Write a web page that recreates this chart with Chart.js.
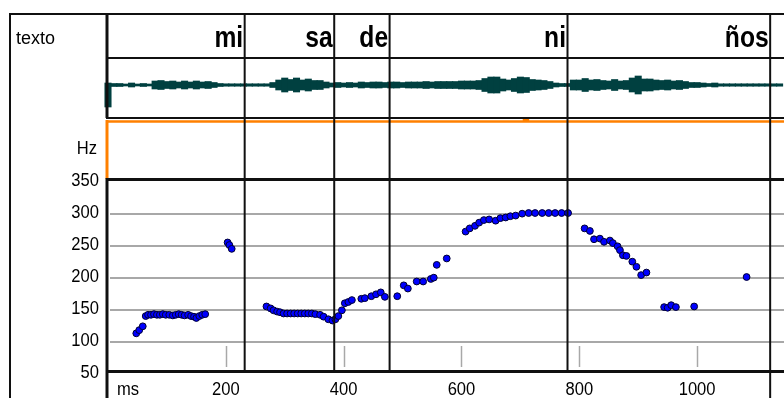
<!DOCTYPE html>
<html>
<head>
<meta charset="utf-8">
<script src="https://cdn.jsdelivr.net/npm/chart.js@4/dist/chart.umd.min.js"></script>
<style>
  html, body { margin: 0; padding: 0; background: #ffffff; }
  #c { display: block; }
</style>
</head>
<body>
<canvas id="c" width="784" height="398"></canvas>
<script>
// ---------- data ----------
const syllables = ["mi", "sa", "de", "ni", "ños"];
const syllableEndMs = [232, 384, 478, 780, 1124];
const rowLabel = "texto";
const yUnit = "Hz";
const xUnit = "ms";
const yTickValues = [50, 100, 150, 200, 250, 300, 350];
const yGridValues = [100, 150, 200, 250, 300];
const xTickValues = [200, 400, 600, 800, 1000];

const pitchMs = [48, 53, 59, 64, 68, 73, 78, 83, 88, 93, 98, 104, 110, 115, 120, 125, 130, 136, 141, 146, 150, 155, 160, 165,
  203, 206, 210,
  269, 276, 281, 287, 292, 298, 304, 310, 316, 322, 328, 334, 340, 346, 352, 360, 366, 374, 381, 386, 391, 397, 402, 408, 414, 430, 436, 447, 455, 463, 470,
  491, 502, 509, 524, 535, 548, 553, 558, 575,
  607, 614, 623, 630, 638, 647, 658, 666, 675, 683, 692, 703, 714, 725, 737, 748, 759, 770, 781,
  809, 818, 825, 835, 842, 852, 857, 865, 869, 874, 880, 890, 897, 905, 914,
  944, 950, 956, 964, 995,
  1084];
const pitchHz = [114, 119, 125, 141, 143, 143, 144, 143, 143, 144, 143, 143, 142, 143, 144, 143, 142, 143, 141, 140, 138, 141, 143, 144,
  256, 252, 246,
  156, 153, 150, 148, 147, 145, 145, 145, 145, 145, 145, 145, 145, 145, 144, 143, 140, 136, 134, 136, 141, 150, 161, 163, 166, 168, 169, 172, 175, 178, 171,
  172, 189, 184, 195, 195, 199, 201, 221, 231,
  273, 278, 282, 287, 291, 292, 290, 294, 295, 297, 298, 301, 302, 302, 302, 302, 302, 302, 302,
  278, 274, 261, 262, 257, 259, 255, 250, 244, 236, 235, 226, 218, 205, 209,
  155, 154, 158, 155, 156,
  202];

// waveform envelope (half amplitude, arbitrary units), one value per 10 ms starting at 0 ms
const waveStepMs = 10;
const waveAmp = [
  2, 1.5, 1.5, 1, 2, 1, 1.5, 1, 4, 4.5,
  3.5, 4, 3, 4, 3, 4, 3, 3.5, 2.5, 1.5,
  1.2, 1.2, 1.2, 1.2, 1.2, 1.2, 1.2, 1.2, 2.5, 5,
  7, 5.5, 7, 5, 6, 4.5, 4.5, 3, 2, 2.5,
  2, 2.5, 2, 3, 2.5, 3, 3, 2.5, 3, 3,
  2.5, 3, 3, 3, 3.5, 3, 3.5, 3.5, 3.5, 3.5,
  4, 4, 4, 4.5, 6.5, 8, 8, 6, 5, 6.5,
  8, 7.5, 5.5, 5, 4.5, 3.5, 2, 1.5, 1.5, 5,
  5, 6.5, 5, 5.5, 4.5, 4, 5.5, 4, 4.5, 7,
  9, 6, 6, 5, 4.5, 5, 4, 4.5, 3.5, 2.5,
  2.5, 2, 1.5, 2, 1.2, 1.2, 1.2, 1.2, 1.2, 1.2,
  1.2, 1.2, 1.2, 1.2, 1.2
];
const waveOnsetLow = -22;   // downward transient at the very start
const orangeMarkMs = [[704, 715]];

// ---------- build datasets ----------
const pitchPoints = pitchMs.map((m, i) => ({ x: m, y: pitchHz[i] }));
const wavePoints = waveAmp.map((a, i) => ({
  x: i * waveStepMs,
  y: i === 0 ? [waveOnsetLow, a] : [-a, a]
}));

const FONT = '"Liberation Sans", Arial, sans-serif';

const framePlugin = {
  id: 'frame',
  beforeDatasetsDraw(chart) {
    const ctx = chart.ctx;
    const xs = chart.scales.x, ys = chart.scales.y;
    ctx.save();
    ctx.strokeStyle = '#a8a8a8';
    ctx.lineWidth = 2;
    yGridValues.forEach(v => {
      const y = Math.round(ys.getPixelForValue(v));
      ctx.beginPath(); ctx.moveTo(110, y); ctx.lineTo(784, y); ctx.stroke();
    });
    ctx.lineWidth = 1.5;
    xTickValues.forEach(v => {
      const x = Math.round(xs.getPixelForValue(v)) + 0.5;
      ctx.beginPath(); ctx.moveTo(x, 346); ctx.lineTo(x, 367); ctx.stroke();
    });
    ctx.restore();
  },
  afterDatasetsDraw(chart) {
    const ctx = chart.ctx;
    const xs = chart.scales.x, ys = chart.scales.y;
    ctx.save();
    const line = (x1, y1, x2, y2, w, c) => {
      ctx.strokeStyle = c; ctx.lineWidth = w;
      ctx.beginPath(); ctx.moveTo(x1, y1); ctx.lineTo(x2, y2); ctx.stroke();
    };
    const K = '#101010';
    line(107, 121.5, 784, 121.5, 2.5, '#ff8000');
    orangeMarkMs.forEach(([a, b]) => {
      const x1 = xs.getPixelForValue(a), x2 = xs.getPixelForValue(b);
      ctx.fillStyle = '#ff8000';
      ctx.fillRect(x1, 119, x2 - x1, 3);
    });
    line(107, 120, 107, 179, 3, '#ff8000');
    line(10, 14, 784, 14, 2, K);
    line(10, 13, 10, 398, 2, K);
    line(107, 13, 107, 118, 3, K);
    line(107, 178, 107, 398, 3, K);
    line(106, 58, 784, 58, 2, K);
    line(106, 118, 784, 118, 2, K);
    line(106, 179.5, 784, 179.5, 3, K);
    line(106, 371.5, 784, 371.5, 3, K);
    syllableEndMs.forEach((m, i) => {
      const x = xs.getPixelForValue(m);
      const last = i === syllableEndMs.length - 1;
      line(x, 14, x, last ? 398 : 372, 2, K);
    });
    ctx.fillStyle = '#000';
    ctx.font = '18px ' + FONT;
    ctx.textBaseline = 'alphabetic';
    ctx.textAlign = 'left';
    ctx.fillText(rowLabel, 16, 43.5);
    ctx.font = 'bold 28px ' + FONT;
    ctx.textAlign = 'right';
    syllables.forEach((s, i) => {
      const x = xs.getPixelForValue(syllableEndMs[i]) - 1.5;
      ctx.save();
      ctx.translate(x, 46.5);
      ctx.scale(0.88, 1.04);
      ctx.fillText(s, 0, 0);
      ctx.restore();
    });
    ctx.font = '18px ' + FONT;
    const drawNarrow = (t, x, y, align) => {
      ctx.save();
      ctx.translate(x, y);
      ctx.scale(0.92, 1);
      ctx.textAlign = align;
      ctx.fillText(t, 0, 0);
      ctx.restore();
    };
    drawNarrow(yUnit, 97, 154, 'right');
    yTickValues.forEach(v => {
      drawNarrow(String(v), 99, ys.getPixelForValue(v) + 4, 'right');
    });
    xTickValues.forEach(v => {
      drawNarrow(String(v), xs.getPixelForValue(v), 395, 'center');
    });
    drawNarrow(xUnit, 117, 395, 'left');
    ctx.restore();
  }
};

new Chart(document.getElementById('c'), {
  type: 'scatter',
  data: {
    datasets: [
      {
        type: 'scatter',
        label: 'F0',
        data: pitchPoints,
        xAxisID: 'x', yAxisID: 'y',
        pointRadius: 3.4,
        pointBackgroundColor: '#0000ff',
        pointBorderColor: '#000030',
        pointBorderWidth: 1,
        clip: false,
        order: 1
      },
      {
        type: 'bar',
        label: 'wave',
        data: wavePoints,
        xAxisID: 'x', yAxisID: 'yw',
        backgroundColor: '#004040',
        borderWidth: 0,
        barThickness: 6.4,
        clip: false,
        order: 2
      }
    ]
  },
  options: {
    responsive: false,
    animation: false,
    devicePixelRatio: 1,
    layout: { padding: { left: 108, right: 0, top: 180, bottom: 26 } },
    plugins: { legend: { display: false }, tooltip: { enabled: false } },
    scales: {
      x: { type: 'linear', min: 0, max: 1139, display: false, offset: false, grid: { offset: false } },
      y: { type: 'linear', min: 53.6, max: 353.6, display: false },
      yw: { type: 'linear', min: -287, max: -95, display: false }
    }
  },
  plugins: [framePlugin]
});
</script>
</body>
</html>
